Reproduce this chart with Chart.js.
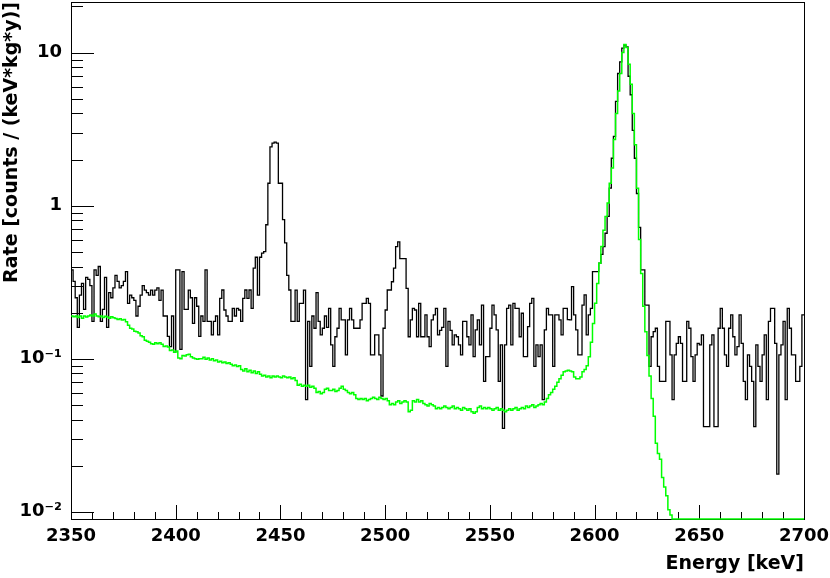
<!DOCTYPE html>
<html>
<head>
<meta charset="utf-8">
<script src="https://cdn.jsdelivr.net/npm/chart.js@4.4.1/dist/chart.umd.min.js"></script>
<style>
  html, body { margin: 0; padding: 0; background: #fff; }
  #wrap { width: 830px; height: 578px; }
</style>
</head>
<body>
<div id="wrap"><canvas id="spectrum"></canvas></div>
<script>
// energy binning (1 keV bins from 2350 to 2700 keV)
const energyStart = 2350;
const energyEnd = 2700;
const binWidth = 1;

// measured rate, counts / (keV*kg*y), one value per bin
const dataRate = [
  0.38,0.32,0.25,0.16,0.26,0.31,0.21,0.34,0.33,0.30,
  0.175,0.38,0.35,0.40,0.175,0.21,0.34,0.16,0.27,0.25,
  0.29,0.35,0.32,0.29,0.30,0.32,0.37,0.23,0.26,0.25,
  0.24,0.19,0.22,0.26,0.30,0.28,0.27,0.26,0.28,0.26,
  0.28,0.29,0.24,0.28,0.19,0.19,0.14,0.12,0.19,0.11,
  0.38,0.38,0.115,0.37,0.21,0.21,0.28,0.25,0.17,0.25,
  0.22,0.14,0.19,0.175,0.38,0.175,0.175,0.143,0.175,0.19,
  0.143,0.248,0.281,0.208,0.19,0.175,0.175,0.213,0.19,0.213,
  0.208,0.175,0.248,0.281,0.248,0.281,0.213,0.39,0.46,0.26,
  0.46,0.49,0.50,0.75,1.40,2.42,2.56,2.60,2.56,1.40,
  1.40,0.81,0.57,0.35,0.281,0.175,0.175,0.28,0.175,0.23,
  0.23,0.28,0.054,0.175,0.089,0.19,0.158,0.27,0.175,0.143,
  0.158,0.19,0.16,0.213,0.123,0.089,0.139,0.158,0.213,0.179,
  0.179,0.106,0.179,0.213,0.179,0.158,0.158,0.158,0.179,0.23,
  0.23,0.248,0.23,0.106,0.106,0.143,0.143,0.106,0.057,0.158,
  0.208,0.281,0.281,0.318,0.39,0.54,0.58,0.45,0.45,0.45,
  0.288,0.139,0.179,0.213,0.208,0.139,0.23,0.139,0.139,0.193,
  0.139,0.12,0.179,0.193,0.213,0.143,0.153,0.16,0.213,0.089,
  0.175,0.153,0.123,0.143,0.139,0.123,0.106,0.175,0.175,0.139,
  0.123,0.193,0.103,0.154,0.179,0.123,0.224,0.071,0.103,0.103,
  0.158,0.224,0.193,0.154,0.071,0.123,0.035,0.123,0.213,0.224,
  0.123,0.230,0.213,0.213,0.139,0.198,0.103,0.103,0.162,0.230,
  0.248,0.089,0.123,0.103,0.123,0.054,0.154,0.213,0.193,0.193,
  0.089,0.193,0.193,0.179,0.143,0.213,0.213,0.18,0.179,0.296,
  0.193,0.154,0.106,0.106,0.224,0.261,0.143,0.193,0.213,0.37,
  0.37,0.37,0.42,0.48,0.54,0.66,0.85,1.3,2.04,2.83,
  4.8,7.3,8.7,10.7,11.2,10.9,7.0,5.3,3.1,2.04,
  1.2,0.72,0.38,0.38,0.224,0.224,0.089,0.139,0.15,0.158,
  0.089,0.071,0.071,0.071,0.175,0.175,0.106,0.054,0.106,0.126,
  0.139,0.126,0.071,0.071,0.175,0.158,0.103,0.071,0.106,0.126,
  0.123,0.143,0.036,0.036,0.036,0.123,0.143,0.036,0.036,0.158,
  0.213,0.158,0.106,0.089,0.158,0.193,0.139,0.106,0.120,0.193,
  0.126,0.071,0.054,0.106,0.089,0.071,0.036,0.123,0.089,0.071,
  0.106,0.143,0.054,0.175,0.213,0.213,0.126,0.0176,0.106,0.123,
  0.175,0.054,0.213,0.158,0.106,0.106,0.071,0.071,0.089,0.193
];

// simulated rate (green), one value per bin; empty bins are 0
const simRate = [
  0.19,0.188,0.19,0.186,0.19,0.184,0.19,0.187,0.19,0.193,
  0.19,0.196,0.19,0.188,0.19,0.186,0.189,0.187,0.184,0.188,
  0.185,0.183,0.18,0.182,0.179,0.18,0.174,0.165,0.158,0.156,
  0.151,0.15,0.147,0.141,0.139,0.132,0.13,0.128,0.125,0.124,
  0.127,0.125,0.127,0.124,0.12,0.121,0.119,0.113,0.114,0.11,
  0.112,0.101,0.10,0.105,0.104,0.106,0.107,0.103,0.101,0.10,
  0.099,0.10,0.10,0.102,0.099,0.101,0.098,0.10,0.097,0.098,
  0.095,0.096,0.094,0.095,0.093,0.094,0.092,0.09,0.091,0.089,
  0.09,0.085,0.083,0.086,0.082,0.084,0.081,0.083,0.08,0.082,
  0.079,0.077,0.078,0.076,0.077,0.075,0.077,0.076,0.077,0.076,
  0.075,0.077,0.076,0.075,0.076,0.074,0.075,0.072,0.067,0.068,
  0.066,0.067,0.066,0.067,0.065,0.066,0.064,0.06,0.061,0.059,
  0.06,0.063,0.064,0.062,0.062,0.063,0.061,0.062,0.064,0.066,
  0.063,0.062,0.06,0.059,0.06,0.058,0.055,0.054,0.055,0.054,
  0.055,0.053,0.054,0.055,0.056,0.055,0.054,0.056,0.055,0.054,
  0.055,0.053,0.05,0.051,0.05,0.052,0.053,0.051,0.052,0.053,
  0.052,0.045,0.046,0.053,0.052,0.054,0.052,0.053,0.051,0.05,
  0.049,0.051,0.05,0.049,0.047,0.048,0.047,0.048,0.049,0.048,
  0.047,0.048,0.049,0.047,0.048,0.047,0.046,0.048,0.047,0.046,
  0.047,0.045,0.044,0.045,0.048,0.049,0.047,0.048,0.047,0.048,
  0.047,0.046,0.047,0.048,0.046,0.047,0.046,0.045,0.046,0.047,
  0.046,0.047,0.048,0.046,0.047,0.048,0.047,0.049,0.048,0.049,
  0.05,0.048,0.049,0.05,0.051,0.05,0.052,0.055,0.058,0.06,
  0.063,0.066,0.07,0.074,0.078,0.082,0.083,0.084,0.083,0.082,
  0.076,0.074,0.074,0.076,0.082,0.085,0.09,0.103,0.128,0.17,
  0.23,0.31,0.42,0.54,0.69,0.85,1.04,1.4,1.76,2.7,
  4.0,5.6,7.3,10.0,11.3,10.8,8.4,6.2,4.0,2.5,
  1.3,0.6,0.36,0.22,0.15,0.105,0.077,0.055,0.042,0.028,
  0.024,0.022,0.0167,0.0145,0.0127,0.0103,0.0095,0,0,0,
  0,0,0,0,0,0,0,0,0,0,
  0,0,0,0,0,0,0,0,0,0,
  0,0,0,0,0,0,0,0,0,0,
  0,0,0,0,0,0,0,0,0,0,
  0,0,0,0,0,0,0,0,0,0,
  0,0,0,0,0,0,0,0,0,0
];

// axis ticks and labels
const xTickStep = 10;
const xLabelStep = 50;
const yTicks = [
  0.01,0.02,0.03,0.04,0.05,0.06,0.07,0.08,0.09,
  0.1,0.2,0.3,0.4,0.5,0.6,0.7,0.8,0.9,
  1,2,3,4,5,6,7,8,9,
  10,20
];
const yTickLabels = { "0.01": "10\u207B\u00B2", "0.1": "10\u207B\u00B9", "1": "1", "10": "10" };
const yMin = 0.00896;
const yMax = 21.4;

const fontFamily = "'DejaVu Sans', sans-serif";

// histogram outline: one point per lower bin edge plus the closing edge
function histPoints(values) {
  const pts = values.map((v, i) => ({ x: energyStart + i * binWidth, y: v > 0 ? v : yMin }));
  pts.push({ x: energyStart + values.length * binWidth, y: pts[pts.length - 1].y });
  return pts;
}

// ROOT-like frame with ticks pointing into the plot
const frameTicks = {
  id: "frameTicks",
  beforeDatasetsDraw(chart) {
    const { ctx, chartArea: a, scales: { x, y } } = chart;
    ctx.save();
    ctx.strokeStyle = "#000";
    ctx.lineWidth = 1;
    ctx.beginPath();
    x.ticks.forEach(t => {
      const px = Math.round(x.getPixelForValue(t.value)) + 0.5;
      const len = t.value % xLabelStep === 0 ? 14 : 7;
      ctx.moveTo(px, a.bottom);
      ctx.lineTo(px, a.bottom - len);
    });
    y.ticks.forEach(t => {
      const py = Math.round(y.getPixelForValue(t.value)) + 0.5;
      const len = yTickLabels[String(t.value)] ? 23 : 12;
      ctx.moveTo(a.left, py);
      ctx.lineTo(a.left + len, py);
    });
    ctx.stroke();
    ctx.strokeRect(a.left + 0.5, a.top + 0.5, a.right - a.left, a.bottom - a.top);
    ctx.restore();
  }
};

new Chart(document.getElementById("spectrum"), {
  type: "line",
  data: {
    datasets: [
      {
        label: "data",
        data: histPoints(dataRate),
        borderColor: "#000000",
        borderWidth: 1.3,
        stepped: true,
        pointRadius: 0,
        fill: false,
        order: 1,
        clip: 2
      },
      {
        label: "simulation",
        data: histPoints(simRate),
        borderColor: "#00ff00",
        borderWidth: 1.5,
        stepped: true,
        pointRadius: 0,
        fill: false,
        order: 0,
        clip: 2
      }
    ]
  },
  options: {
    responsive: true,
    maintainAspectRatio: false,
    animation: false,
    layout: { padding: { left: 0, right: 26, top: 2, bottom: 0 } },
    plugins: { legend: { display: false }, tooltip: { enabled: false } },
    scales: {
      x: {
        type: "linear",
        min: energyStart,
        max: energyEnd,
        grid: { display: false, drawTicks: false },
        border: { display: false },
        ticks: {
          stepSize: xTickStep,
          autoSkip: false,
          maxRotation: 0,
          padding: 7,
          color: "#000",
          font: { family: fontFamily, size: 18, weight: "bold" },
          callback: v => (v % xLabelStep === 0 ? String(v) : "")
        },
        title: {
          display: true,
          text: "Energy [keV]",
          align: "end",
          color: "#000",
          padding: { top: 0, bottom: 3 },
          font: { family: fontFamily, size: 19, weight: "bold" }
        },
        afterFit: s => { s.height = 59; s.paddingLeft = 0; s.paddingRight = 0; }
      },
      y: {
        type: "logarithmic",
        min: yMin,
        max: yMax,
        grid: { display: false, drawTicks: false },
        border: { display: false },
        afterBuildTicks: s => { s.ticks = yTicks.map(v => ({ value: v })); },
        ticks: {
          autoSkip: false,
          padding: 9,
          color: "#000",
          font: { family: fontFamily, size: 18, weight: "bold" },
          callback: v => yTickLabels[String(v)] || ""
        },
        title: {
          display: true,
          text: "Rate [counts / (keV*kg*y)]",
          align: "end",
          color: "#000",
          padding: { top: 1, bottom: 0 },
          font: { family: fontFamily, size: 19, weight: "bold" }
        },
        afterFit: s => { s.width = 71; s.paddingTop = 0; s.paddingBottom = 0; }
      }
    }
  },
  plugins: [frameTicks]
});
</script>
</body>
</html>
